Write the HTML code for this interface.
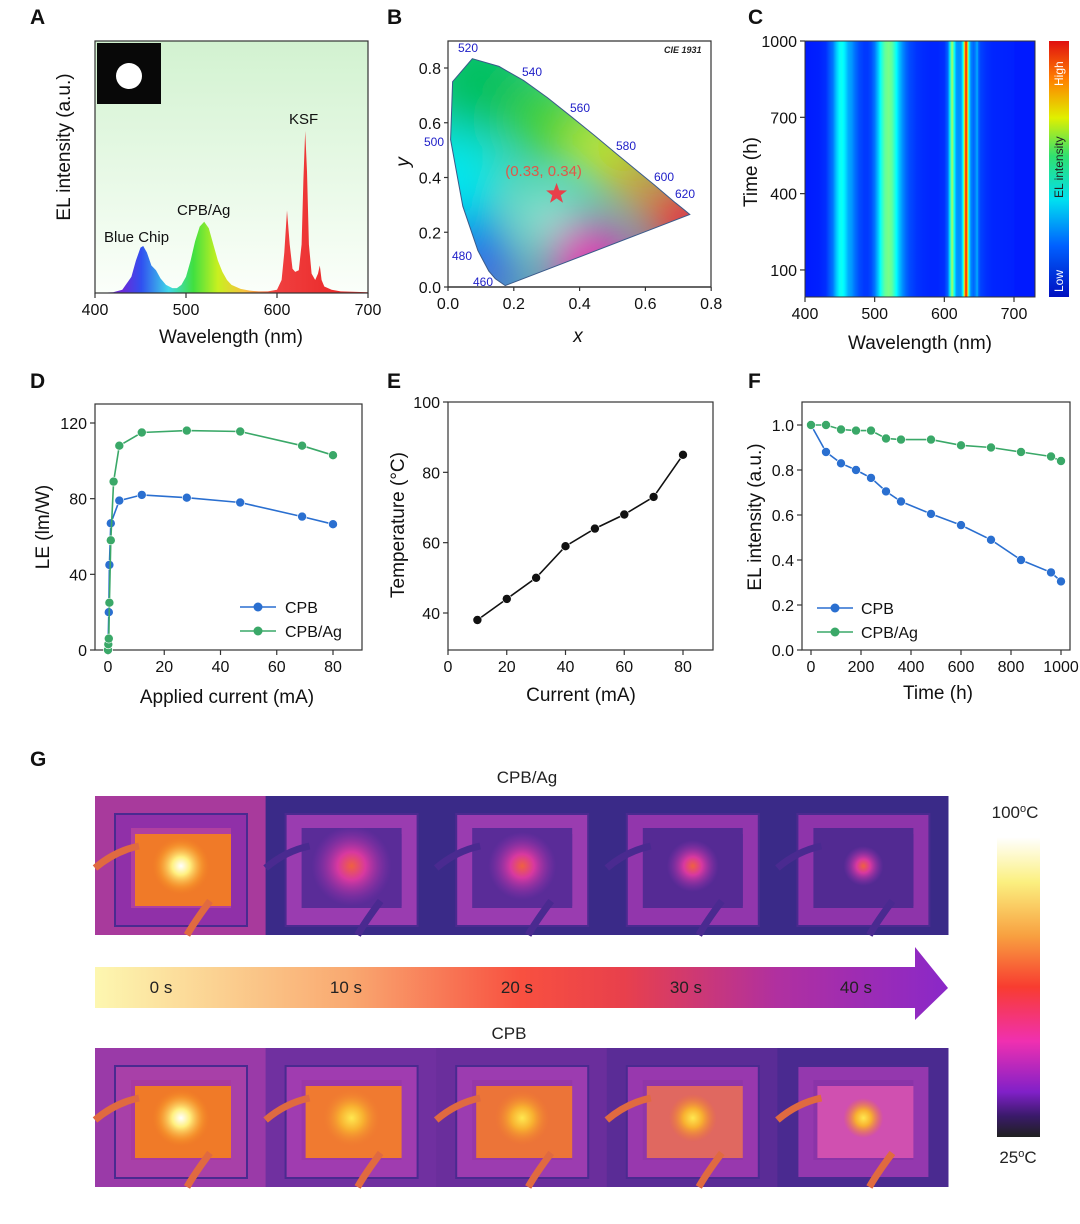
<!DOCTYPE html>
<html><head><meta charset="utf-8"><style>
html,body{margin:0;padding:0;background:#fff}
svg{display:block;font-family:"Liberation Sans",sans-serif}
</style></head><body>
<svg id="fig" width="1080" height="1224" viewBox="0 0 1080 1224" xmlns="http://www.w3.org/2000/svg">
<defs>
<linearGradient id="bgA" x1="0" y1="0" x2="0" y2="1"><stop offset="0" stop-color="#d2f2d0"/><stop offset="1" stop-color="#fbfffa"/></linearGradient>
<linearGradient id="specFill" gradientUnits="userSpaceOnUse" x1="95" y1="0" x2="368" y2="0">
<stop offset="0.1" stop-color="#6a2ad8"/><stop offset="0.17" stop-color="#3050f0"/><stop offset="0.27" stop-color="#40d8e8"/><stop offset="0.36" stop-color="#40e040"/><stop offset="0.45" stop-color="#c8f020"/><stop offset="0.55" stop-color="#f8c040"/><stop offset="0.66" stop-color="#f04040"/><stop offset="1" stop-color="#e82020"/></linearGradient>
<clipPath id="cieClip"><path id="cieShape" d=""/></clipPath>
<filter id="blur30" x="-50%" y="-50%" width="200%" height="200%"><feGaussianBlur stdDeviation="24"/></filter>
<linearGradient id="heatGrad" x1="0" y1="0" x2="1" y2="0"></linearGradient>
<linearGradient id="jetBar" x1="0" y1="1" x2="0" y2="0">
<stop offset="0" stop-color="#0010c0"/><stop offset="0.2" stop-color="#0060ff"/><stop offset="0.38" stop-color="#00e0f0"/><stop offset="0.55" stop-color="#30e070"/><stop offset="0.7" stop-color="#e0f000"/><stop offset="0.85" stop-color="#ff8000"/><stop offset="1" stop-color="#e01010"/></linearGradient>
<linearGradient id="arrowGrad" x1="0" y1="0" x2="1" y2="0">
<stop offset="0" stop-color="#fdf7b0"/><stop offset="0.3" stop-color="#f9a870"/><stop offset="0.5" stop-color="#f85040"/><stop offset="0.62" stop-color="#e8404c"/><stop offset="0.8" stop-color="#b030a0"/><stop offset="1" stop-color="#8a28c8"/></linearGradient>
<linearGradient id="tempBar" x1="0" y1="0" x2="0" y2="1">
<stop offset="0" stop-color="#ffffff"/><stop offset="0.15" stop-color="#fbf080"/><stop offset="0.33" stop-color="#f8a040"/><stop offset="0.5" stop-color="#f83c30"/><stop offset="0.68" stop-color="#f030b0"/><stop offset="0.85" stop-color="#8020c8"/><stop offset="0.93" stop-color="#3a1a6a"/><stop offset="1" stop-color="#202020"/></linearGradient>
<radialGradient id="glowHot"><stop offset="0" stop-color="#ffffff"/><stop offset="0.3" stop-color="#fff080"/><stop offset="0.7" stop-color="#f8a030" stop-opacity="0.6"/><stop offset="1" stop-color="#f07820" stop-opacity="0"/></radialGradient>
<radialGradient id="glowMid"><stop offset="0" stop-color="#ffe850"/><stop offset="0.4" stop-color="#f8b030"/><stop offset="1" stop-color="#f07830" stop-opacity="0"/></radialGradient>
<radialGradient id="glowPink"><stop offset="0" stop-color="#f06040"/><stop offset="0.35" stop-color="#d838a0"/><stop offset="1" stop-color="#9030b0" stop-opacity="0"/></radialGradient>
</defs>

<g font-weight="bold" font-size="21" fill="#111">
<text x="30" y="24">A</text>
<text x="387" y="24">B</text>
<text x="748" y="24">C</text>
<text x="30" y="388">D</text>
<text x="387" y="388">E</text>
<text x="748" y="388">F</text>
<text x="30" y="766">G</text>
</g>

<g id="panelA">
<rect x="95" y="41" width="273" height="252" fill="url(#bgA)"/>
<path id="specPath" fill="url(#specFill)" stroke="none"/>
<rect x="97" y="43" width="64" height="61" fill="#080808"/>
<circle cx="129" cy="76" r="13" fill="#fff"/>
<rect x="95" y="41" width="273" height="252" fill="none" stroke="#333" stroke-width="1.2"/>
<g id="axA"></g>
<text x="104" y="242" font-size="15" fill="#111">Blue Chip</text>
<text x="177" y="215" font-size="15" fill="#111">CPB/Ag</text>
<text x="289" y="124" font-size="15" fill="#111">KSF</text>
<text x="231" y="343" font-size="19" text-anchor="middle" fill="#111">Wavelength (nm)</text>
<text transform="translate(70,147) rotate(-90)" font-size="19" text-anchor="middle" fill="#111">EL intensity (a.u.)</text>
</g>

<g id="panelB">
<g clip-path="url(#cieClip)">
<rect x="440" y="40" width="300" height="260" fill="#40d0b0"/>
<g filter="url(#blur30)">
<circle cx="480" cy="80" r="55" fill="#00c060"/>
<circle cx="545" cy="120" r="35" fill="#40d020"/>
<circle cx="450" cy="180" r="50" fill="#00e8f0"/>
<circle cx="470" cy="250" r="38" fill="#1070f0"/>
<circle cx="495" cy="285" r="22" fill="#6010e0"/>
<circle cx="600" cy="145" r="28" fill="#e8f000"/>
<circle cx="635" cy="180" r="26" fill="#ff9000"/>
<circle cx="685" cy="220" r="38" fill="#ff1030"/>
<circle cx="590" cy="262" r="42" fill="#f020b0"/>
<circle cx="545" cy="215" r="18" fill="#ffffff"/>
</g>
</g>
<path id="cieOutline" fill="none" stroke="#3a5a8a" stroke-width="1"/>
<g id="axB"></g>
<g font-size="12" fill="#2020c8">
<text x="458" y="52">520</text>
<text x="522" y="76">540</text>
<text x="570" y="112">560</text>
<text x="616" y="150">580</text>
<text x="654" y="181">600</text>
<text x="675" y="198">620</text>
<text x="424" y="146">500</text>
<text x="452" y="260">480</text>
<text x="473" y="286">460</text>
</g>
<text x="664" y="53" font-size="9" font-weight="bold" font-style="italic" fill="#222">CIE 1931</text>
<text id="ciePtLabel" font-size="15" fill="#e05848" text-anchor="middle">(0.33, 0.34)</text>
<path id="star" fill="#e8404a"/>
<text x="578" y="342" font-size="19" font-style="italic" text-anchor="middle" fill="#111">x</text>
<text transform="translate(409,162) rotate(-90)" font-size="19" font-style="italic" text-anchor="middle" fill="#111">y</text>
</g>

<g id="panelC">
<rect x="805" y="41" width="230" height="256" fill="url(#heatGrad)"/>
<rect x="1049" y="41" width="20" height="256" fill="url(#jetBar)"/>
<text transform="translate(1063,86) rotate(-90)" font-size="12" fill="#fff">High</text>
<text transform="translate(1063,198) rotate(-90)" font-size="12" fill="#222">EL intensity</text>
<text transform="translate(1063,292) rotate(-90)" font-size="12" fill="#fff">Low</text>
<g id="axC"></g>
<text x="920" y="349" font-size="19" text-anchor="middle" fill="#111">Wavelength (nm)</text>
<text transform="translate(757,172) rotate(-90)" font-size="19" text-anchor="middle" fill="#111">Time (h)</text>
</g>

<g id="panelD">
<rect x="95" y="404" width="267" height="246" fill="none" stroke="#333" stroke-width="1.2"/>
<g id="axD"></g><g id="marksD"></g>
<g>
<line x1="240" y1="607" x2="276" y2="607" stroke="#2a6fd0" stroke-width="1.6"/><circle cx="258" cy="607" r="4.5" fill="#2a6fd0"/>
<text x="285" y="613" font-size="16" fill="#111">CPB</text>
<line x1="240" y1="631" x2="276" y2="631" stroke="#3aa868" stroke-width="1.6"/><circle cx="258" cy="631" r="4.5" fill="#3aa868"/>
<text x="285" y="637" font-size="16" fill="#111">CPB/Ag</text>
</g>
<text x="227" y="703" font-size="19" text-anchor="middle" fill="#111">Applied current (mA)</text>
<text transform="translate(49,527) rotate(-90)" font-size="19" text-anchor="middle" fill="#111">LE (lm/W)</text>
</g>

<g id="panelE">
<rect x="448" y="402" width="265" height="248" fill="none" stroke="#333" stroke-width="1.2"/>
<g id="axE"></g><g id="marksE"></g>
<text x="581" y="701" font-size="19" text-anchor="middle" fill="#111">Current (mA)</text>
<text transform="translate(404,525) rotate(-90)" font-size="19" text-anchor="middle" fill="#111">Temperature (°C)</text>
</g>

<g id="panelF">
<rect x="802" y="402" width="268" height="248" fill="none" stroke="#333" stroke-width="1.2"/>
<g id="axF"></g><g id="marksF"></g>
<g>
<line x1="817" y1="608" x2="853" y2="608" stroke="#2a6fd0" stroke-width="1.6"/><circle cx="835" cy="608" r="4.5" fill="#2a6fd0"/>
<text x="861" y="614" font-size="16" fill="#111">CPB</text>
<line x1="817" y1="632" x2="853" y2="632" stroke="#3aa868" stroke-width="1.6"/><circle cx="835" cy="632" r="4.5" fill="#3aa868"/>
<text x="861" y="638" font-size="16" fill="#111">CPB/Ag</text>
</g>
<text x="938" y="699" font-size="19" text-anchor="middle" fill="#111">Time (h)</text>
<text transform="translate(761,517) rotate(-90)" font-size="19" text-anchor="middle" fill="#111">EL intensity (a.u.)</text>
</g>

<g id="panelG">
<text x="527" y="783" font-size="17" text-anchor="middle" fill="#222">CPB/Ag</text>
<g id="rowTop"></g>
<path d="M95,967 H915 V947 L948,988 L915,1020 V1008 H95 Z" fill="url(#arrowGrad)"/>
<g font-size="17" fill="#222" text-anchor="middle">
<text x="161" y="993">0 s</text>
<text x="346" y="993">10 s</text>
<text x="517" y="993">20 s</text>
<text x="686" y="993">30 s</text>
<text x="856" y="993">40 s</text>
</g>
<text x="509" y="1039" font-size="17" text-anchor="middle" fill="#222">CPB</text>
<g id="rowBot"></g>
<rect x="997" y="837" width="43" height="300" fill="url(#tempBar)"/>
<text x="1015" y="818" font-size="17" text-anchor="middle" fill="#222">100<tspan font-size="11" dy="-6">o</tspan><tspan dy="6">C</tspan></text>
<text x="1018" y="1163" font-size="17" text-anchor="middle" fill="#222">25<tspan font-size="11" dy="-6">o</tspan><tspan dy="6">C</tspan></text>
</g>
</svg>

<script>
const specWl = [400,420,430,440,445,450,453,457,462,467,472,478,485,490,495,500,505,510,515,520,525,530,535,540,545,550,560,570,580,590,600,605,608,611,614,617,620,624,627,629,631,633,635,638,642,645,647,649,652,660,670,700];
const specI  = [0,0.005,0.02,0.1,0.2,0.28,0.29,0.25,0.17,0.14,0.09,0.05,0.03,0.03,0.05,0.1,0.2,0.32,0.41,0.44,0.4,0.3,0.2,0.13,0.08,0.05,0.025,0.015,0.01,0.01,0.02,0.08,0.25,0.51,0.3,0.15,0.13,0.14,0.3,0.7,1.0,0.75,0.3,0.12,0.08,0.12,0.17,0.08,0.04,0.02,0.01,0.005];
const aTicks = [400,500,600,700];

const locusX = [0.144,0.124,0.091,0.045,0.008,0.014,0.074,0.155,0.230,0.302,0.373,0.444,0.512,0.575,0.627,0.691,0.719,0.735,0.174];
const locusY = [0.030,0.058,0.133,0.295,0.538,0.750,0.834,0.806,0.754,0.692,0.624,0.555,0.487,0.424,0.373,0.308,0.281,0.265,0.005];
const ciePoint = [0.33,0.34];
const bXTicks = [0,0.2,0.4,0.6,0.8];
const bYTicks = [0,0.2,0.4,0.6,0.8];

const cXTicks = [400,500,600,700];
const cYTicks = [100,400,700,1000];

const dCur = [0,0.3,0.5,1,4,12,28,47,69,80];
const dCPB = [0,20,45,67,79,82,80.5,78,70.5,66.5];
const dCurAg = [0,0.1,0.3,0.5,1,2,4,12,28,47,69,80];
const dAg = [0,3,6,25,58,89,108,115,116,115.5,108,103];
const dXTicks = [0,20,40,60,80];
const dYTicks = [0,40,80,120];

const eCur = [10,20,30,40,50,60,70,80];
const eTemp = [38,44,50,59,64,68,73,85];
const eXTicks = [0,20,40,60,80];
const eYTicks = [40,60,80,100];

const fTime = [0,60,120,180,240,300,360,480,600,720,840,960,1000];
const fCPB = [1.0,0.88,0.83,0.80,0.765,0.705,0.66,0.605,0.555,0.49,0.40,0.345,0.305];
const fAg = [1.0,1.0,0.98,0.975,0.975,0.94,0.935,0.935,0.91,0.90,0.88,0.86,0.84];
const fXTicks = [0,200,400,600,800,1000];
const fYTicks = [0,0.2,0.4,0.6,0.8,1.0];

const NS = "http://www.w3.org/2000/svg";
function el(tag, attrs, parent){const e=document.createElementNS(NS,tag);for(const k in attrs)e.setAttribute(k,attrs[k]);parent.appendChild(e);return e;}
const $ = id=>document.getElementById(id);

const ax = w=>95+(w-400)*(273/300), ay = i=>293-i*162;
const bx = x=>448+x*329, by = y=>287-y*273.75;
const cx = w=>805+(w-400)*(209/300), cy = t=>41+(1000-t)*0.2544;
const dx = c=>108+c*(225/80), dy = v=>650-v*(227/120);
const ex = c=>448+c*(235/80), ey = v=>402+(100-v)*(211/60);
const fx = t=>811+t*0.25, fy = v=>650-v*225;

function ticks(g, xs, xf, xfmt, yBase, ys, yf, yfmt, xLeft, len){
  xs.forEach(v=>{const x=xf(v);
    const t=el('line',{x1:x,y1:yBase,x2:x,y2:yBase+len,stroke:'#333','stroke-width':1.2},g);
    
    
    const l=el('text',{x:x,y:yBase+22,'font-size':16,'text-anchor':'middle',fill:'#111'},g);
    
    
    l.textContent=xfmt(v);});
  ys.forEach(v=>{const y=yf(v);
    const t=el('line',{x1:xLeft-len,y1:y,x2:xLeft,y2:y,stroke:'#333','stroke-width':1.2},g);
    
    
    const l=el('text',{x:xLeft-len-3,y:y+6,'font-size':16,'text-anchor':'end',fill:'#111'},g);
    
    
    l.textContent=yfmt(v);});
}

let d='M'+ax(specWl[0])+','+ay(0);
specWl.forEach((w,i)=>{d+=' L'+ax(w).toFixed(1)+','+ay(specI[i]).toFixed(1);});
d+=' L'+ax(specWl[specWl.length-1])+','+ay(0)+' Z';
$('specPath').setAttribute('d',d);
ticks($('axA'),aTicks,ax,v=>v,293,[],ay,v=>v,95,5);

let cd='';locusX.forEach((x,i)=>{cd+=(i?' L':'M')+bx(x).toFixed(1)+','+by(locusY[i]).toFixed(1);});cd+=' Z';
$('cieShape').setAttribute('d',cd);$('cieOutline').setAttribute('d',cd);
el('line',{x1:448,y1:287,x2:711,y2:287,stroke:'#333','stroke-width':1.5},$('axB'));
el('polyline',{points:'448,287 448,41 711,41 711,287',fill:'none',stroke:'#333','stroke-width':1.2},$('axB'));
ticks($('axB'),bXTicks,bx,v=>v.toFixed(1),287,bYTicks,by,v=>v.toFixed(1),448,4);
{const px=bx(ciePoint[0]),py=by(ciePoint[1]);let s='';
 for(let k=0;k<10;k++){const r=k%2?4.5:11,a=-Math.PI/2+k*Math.PI/5;s+=(k?'L':'M')+(px+r*Math.cos(a)).toFixed(1)+','+(py+r*Math.sin(a)).toFixed(1);}
 $('star').setAttribute('d',s+'Z');
 const t=$('ciePtLabel');t.setAttribute('x',px-13);t.setAttribute('y',py-18);}

function jet(v){v=Math.max(0,Math.min(1,v));const r=Math.max(0,Math.min(1,1.5-Math.abs(4*v-3))),g=Math.max(0,Math.min(1,1.5-Math.abs(4*v-2))),b=Math.max(0,Math.min(1,1.5-Math.abs(4*v-1)));return 'rgb('+Math.round(r*255)+','+Math.round(g*255)+','+Math.round(b*255)+')';}
const hg=$('heatGrad');const wMax=730;
for(let w=400;w<=wMax;w+=1){let i=0;for(let k=0;k<specWl.length-1;k++){if(w>=specWl[k]&&w<=specWl[k+1]){const f=(w-specWl[k])/(specWl[k+1]-specWl[k]);i=specI[k]+f*(specI[k+1]-specI[k]);}}
 el('stop',{offset:((w-400)/(wMax-400)).toFixed(4),'stop-color':jet(0.15+0.72*Math.pow(i,0.9))},hg);}
el('rect',{x:805,y:41,width:230,height:256,fill:'none',stroke:'#333','stroke-width':1},$('axC'));
ticks($('axC'),cXTicks,cx,v=>v,297,cYTicks,cy,v=>v,805,5);

function series(g,xs,ys,xf,yf,color,name){
  const p=el('polyline',{points:xs.map((x,i)=>xf(x).toFixed(1)+','+yf(ys[i]).toFixed(1)).join(' '),fill:'none',stroke:color,'stroke-width':1.6},g);
  
  
  xs.forEach((x,i)=>{const c=el('circle',{cx:xf(x).toFixed(1),cy:yf(ys[i]).toFixed(1),r:4.5,fill:color,stroke:'#fff','stroke-width':0.6},g);
    
    });
}
ticks($('axD'),dXTicks,dx,v=>v,650,dYTicks,dy,v=>v,95,5);
series($('marksD'),dCur,dCPB,dx,dy,'#2a6fd0','cpb');
series($('marksD'),dCurAg,dAg,dx,dy,'#3aa868','cpb-ag');
ticks($('axE'),eXTicks,ex,v=>v,650,eYTicks,ey,v=>v,448,5);
series($('marksE'),eCur,eTemp,ex,ey,'#111','temperature');
ticks($('axF'),fXTicks,fx,v=>v,650,fYTicks,fy,v=>v.toFixed(1),802,5);
series($('marksF'),fTime,fCPB,fx,fy,'#2a6fd0','cpb');
series($('marksF'),fTime,fAg,fx,fy,'#3aa868','cpb-ag');

const tilesTop = [
 {bg:'#a83a9c',frame:'#9030a8',pad:'#f07a28',glow:'glowHot',gr:30,inner:'#b040a0',cold:false},
 {bg:'#3a2a88',frame:'#9a3cb0',pad:'#5a2c98',glow:'glowPink',gr:40,inner:'#5a2c98',cold:true},
 {bg:'#3a2a88',frame:'#9a3cb0',pad:'#5a2c98',glow:'glowPink',gr:34,inner:'#5a2c98',cold:true},
 {bg:'#3a2a88',frame:'#9236ac',pad:'#552a94',glow:'glowPink',gr:26,inner:'#552a94',cold:true},
 {bg:'#3a2a88',frame:'#8e34aa',pad:'#522a92',glow:'glowPink',gr:20,inner:'#522a92',cold:true}];
const tilesBot = [
 {bg:'#9a3aa8',frame:'#a840a8',pad:'#f07a28',glow:'glowHot',gr:30,inner:'#a83aa0',cold:false},
 {bg:'#7030a0',frame:'#a03cb0',pad:'#f07a30',glow:'glowMid',gr:30,inner:'#9a38a8',cold:false},
 {bg:'#6a2e9c',frame:'#9c3cb0',pad:'#ec7438',glow:'glowMid',gr:28,inner:'#9638a8',cold:false},
 {bg:'#5a2c96',frame:'#9838ae',pad:'#e06860',glow:'glowMid',gr:24,inner:'#9036a8',cold:false},
 {bg:'#4a2a90',frame:'#9438ae',pad:'#d050b0',glow:'glowMid',gr:20,inner:'#8a34a8',cold:false}];
function drawRow(g,tiles,y0){
  const tw=170.6;
  tiles.forEach((t,i)=>{const x=95+i*tw;
    const grp=el('g',{},g);
    
    
    const wire=t.cold?'#4a2a90':'#e06a40';
    el('rect',{x:x,y:y0,width:tw+0.5,height:139,fill:t.bg},grp);
    el('rect',{x:x+20,y:y0+18,width:132,height:112,fill:t.frame,stroke:'#4a2a90','stroke-width':2},grp);
    el('rect',{x:x+36,y:y0+32,width:100,height:80,fill:t.inner},grp);
    el('rect',{x:x+40,y:y0+38,width:96,height:72,fill:t.pad},grp);
    el('path',{d:`M${x},${y0+72} Q${x+20},${y0+55} ${x+44},${y0+50}`,stroke:wire,'stroke-width':7,fill:'none'},grp);
    el('path',{d:`M${x+115},${y0+105} Q${x+100},${y0+125} ${x+92},${y0+139}`,stroke:wire,'stroke-width':7,fill:'none'},grp);
    el('circle',{cx:x+86,cy:y0+70,r:t.gr,fill:'url(#'+t.glow+')'},grp);
  });
}
drawRow($('rowTop'),tilesTop,796);
drawRow($('rowBot'),tilesBot,1048);
</script>
</body></html>
